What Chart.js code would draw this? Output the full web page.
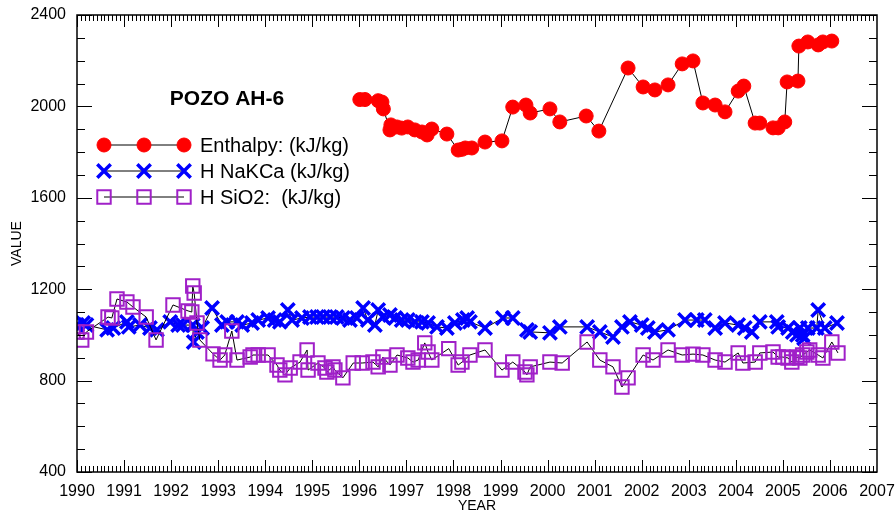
<!DOCTYPE html>
<html>
<head>
<meta charset="utf-8">
<script src="https://cdn.jsdelivr.net/npm/chart.js@4.4.1/dist/chart.umd.min.js"></script>
<style>
  html, body { margin: 0; padding: 0; background: #fff; }
  #wrap { width: 895px; height: 516px; position: relative; }
</style>
</head>
<body>
<div id="wrap"><canvas id="grafica"></canvas></div>
<script>
// Datos (POZO AH-6)
const chartTitle = 'POZO AH-6';
const seriesLabels = ['Enthalpy: (kJ/kg)', 'H NaKCa (kJ/kg)', 'H SiO2:  (kJ/kg)'];

const enthalpyYears = [1996.01, 1996.12, 1996.40, 1996.48, 1996.51, 1996.65, 1996.67, 1996.80, 1996.90, 1997.03,
  1997.18, 1997.33, 1997.44, 1997.54, 1997.86, 1998.10, 1998.18, 1998.25, 1998.39, 1998.67,
  1999.03, 1999.26, 1999.54, 1999.63, 2000.05, 2000.26, 2000.82, 2001.09, 2001.71, 2002.03,
  2002.28, 2002.56, 2002.86, 2003.09, 2003.30, 2003.56, 2003.77, 2004.05, 2004.17, 2004.41,
  2004.51, 2004.79, 2004.90, 2005.04, 2005.09, 2005.32, 2005.34, 2005.53, 2005.75, 2005.85, 2006.04];
const enthalpyValues = [2030, 2030, 2025, 2019, 1989, 1897, 1919, 1910, 1905, 1910,
  1897, 1888, 1875, 1901, 1879, 1809, 1812, 1818, 1818, 1844,
  1849, 1997, 2006, 1971, 1989, 1932, 1958, 1892, 2168, 2085,
  2072, 2094, 2186, 2199, 2015, 2006, 1976, 2067, 2089, 1927,
  1927, 1906, 1906, 1932, 2107, 2111, 2264, 2282, 2269, 2282, 2286];

const nakcaYears = [1990.00, 1990.13, 1990.20, 1990.64, 1990.77, 1991.06, 1991.10, 1991.34, 1991.55, 1991.70,
  1991.98, 1992.15, 1992.25, 1992.46, 1992.48, 1992.55, 1992.66, 1992.87, 1993.08, 1993.19,
  1993.40, 1993.51, 1993.72, 1993.85, 1994.06, 1994.20, 1994.31, 1994.48, 1994.57, 1994.78,
  1994.95, 1995.10, 1995.23, 1995.38, 1995.52, 1995.65, 1995.80, 1995.95, 1996.08, 1996.18,
  1996.33, 1996.40, 1996.50, 1996.65, 1996.76, 1996.90, 1997.03, 1997.18, 1997.33, 1997.46,
  1997.65, 1997.86, 1998.03, 1998.20, 1998.29, 1998.35, 1998.67, 1999.05, 1999.26, 1999.56,
  1999.63, 2000.05, 2000.26, 2000.84, 2001.11, 2001.39, 2001.58, 2001.75, 2002.00, 2002.13,
  2002.28, 2002.56, 2002.92, 2003.17, 2003.34, 2003.56, 2003.77, 2004.05, 2004.19, 2004.34,
  2004.51, 2004.87, 2004.90, 2005.11, 2005.21, 2005.30, 2005.36, 2005.42, 2005.45, 2005.53,
  2005.72, 2005.75, 2005.89, 2006.15];
const nakcaValues = [1043, 1052, 1043, 1022, 1030, 1057, 1035, 1043, 1030, 1022,
  1057, 1043, 1043, 1043, 969, 1013, 1030, 1118, 1043, 1057,
  1057, 1043, 1052, 1065, 1074, 1065, 1057, 1109, 1065, 1074,
  1078, 1078, 1078, 1078, 1078, 1074, 1065, 1074, 1118, 1065,
  1043, 1109, 1078, 1087, 1074, 1065, 1065, 1057, 1057, 1052,
  1035, 1030, 1052, 1065, 1074, 1057, 1030, 1074, 1074, 1022,
  1013, 1009, 1035, 1035, 1013, 991, 1035, 1057, 1043, 1030,
  1013, 1022, 1065, 1065, 1065, 1030, 1052, 1043, 1030, 1013,
  1057, 1057, 1035, 1030, 1013, 1000, 1030, 1000, 985, 1030,
  1030, 1109, 1030, 1052];

const sio2Years = [1990.00, 1990.10, 1990.20, 1990.66, 1990.74, 1990.85, 1991.06, 1991.19, 1991.47, 1991.68,
  1992.04, 1992.36, 1992.44, 1992.46, 1992.49, 1992.55, 1992.61, 1992.89, 1993.04, 1993.14,
  1993.29, 1993.40, 1993.68, 1993.74, 1993.85, 1994.06, 1994.25, 1994.31, 1994.42, 1994.53,
  1994.74, 1994.89, 1994.91, 1995.12, 1995.27, 1995.31, 1995.44, 1995.48, 1995.65, 1995.87,
  1996.06, 1996.29, 1996.40, 1996.50, 1996.65, 1996.80, 1997.03, 1997.14, 1997.25, 1997.39,
  1997.46, 1997.54, 1997.90, 1998.10, 1998.18, 1998.35, 1998.67, 1999.03, 1999.26, 1999.52,
  1999.56, 1999.63, 2000.05, 2000.31, 2000.84, 2001.11, 2001.39, 2001.58, 2001.71, 2002.03,
  2002.24, 2002.56, 2002.86, 2003.09, 2003.30, 2003.56, 2003.77, 2004.05, 2004.15, 2004.41,
  2004.51, 2004.79, 2004.90, 2005.00, 2005.11, 2005.19, 2005.30, 2005.36, 2005.42, 2005.51,
  2005.57, 2005.75, 2005.85, 2006.04, 2006.17];
const sio2Values = [1013, 978, 1013, 1078, 1074, 1157, 1144, 1122, 1078, 978,
  1131, 1105, 1100, 1214, 1183, 1052, 978, 917, 890, 912,
  1017, 890, 903, 912, 912, 912, 868, 846, 825, 855,
  881, 934, 846, 877, 855, 838, 860, 846, 812, 877,
  877, 881, 860, 903, 868, 912, 899, 881, 890, 965,
  925, 890, 940, 868, 881, 912, 934, 846, 881, 838,
  825, 860, 881, 877, 969, 890, 860, 772, 812, 912,
  890, 934, 912, 916, 912, 890, 881, 921, 877, 881,
  921, 925, 903, 903, 899, 881, 903, 899, 912, 925,
  934, 912, 899, 969, 921];

const yearTicks = [1990, 1991, 1992, 1993, 1994, 1995, 1996, 1997, 1998, 1999,
  2000, 2001, 2002, 2003, 2004, 2005, 2006, 2007];
const valueTicks = [400, 800, 1200, 1600, 2000, 2400];

const FONT = "'Liberation Sans', Arial, sans-serif";

function toPoints(xs, ys) {
  return xs.map((x, i) => ({ x: x, y: ys[i] }));
}

// Marco con marcas hacia dentro en los cuatro lados (mayores y menores)
const frameTicks = {
  id: 'frameTicks',
  afterDraw(chart) {
    const { ctx, chartArea: a, scales: { x, y } } = chart;
    ctx.save();
    ctx.strokeStyle = '#000';
    ctx.lineWidth = 1;
    ctx.beginPath();
    for (let yr = yearTicks[0]; yr < yearTicks[yearTicks.length - 1]; yr++) {
      for (let m = 0; m < 12; m++) {
        const px = Math.round(x.getPixelForValue(yr + m / 12)) + 0.5;
        const len = m === 0 ? 12 : 6;
        ctx.moveTo(px, a.bottom); ctx.lineTo(px, a.bottom - len);
        ctx.moveTo(px, a.top); ctx.lineTo(px, a.top + len);
      }
    }
    for (let v = valueTicks[0]; v <= valueTicks[valueTicks.length - 1]; v += 100) {
      const py = Math.round(y.getPixelForValue(v)) + 0.5;
      const len = valueTicks.includes(v) ? 15 : 8;
      ctx.moveTo(a.left, py); ctx.lineTo(a.left + len, py);
      ctx.moveTo(a.right, py); ctx.lineTo(a.right - len, py);
    }
    ctx.stroke();
    ctx.lineWidth = 1.5;
    ctx.strokeRect(a.left, a.top, a.right - a.left, a.bottom - a.top);
    ctx.restore();
  }
};

// Titulo del pozo y leyenda dentro del area de la grafica
const innerLegend = {
  id: 'innerLegend',
  afterDatasetsDraw(chart) {
    const ctx = chart.ctx;
    ctx.save();
    ctx.fillStyle = '#000';
    ctx.font = 'bold 21px ' + FONT;
    ctx.textAlign = 'center';
    ctx.textBaseline = 'middle';
    ctx.fillText(chartTitle, 227, 99);

    const rows = [145, 171, 197];
    const markX = [104, 144, 184];
    chart.data.datasets.forEach((ds, i) => {
      const yy = rows[i];
      ctx.strokeStyle = '#000';
      ctx.lineWidth = 1;
      ctx.beginPath();
      ctx.moveTo(markX[0], yy);
      ctx.lineTo(markX[2], yy);
      ctx.stroke();
      markX.forEach(mx => {
        ctx.strokeStyle = ds.pointBorderColor;
        ctx.fillStyle = ds.pointBackgroundColor;
        ctx.lineWidth = ds.pointBorderWidth;
        Chart.helpers.drawPoint(ctx, { pointStyle: ds.pointStyle, radius: ds.pointRadius, borderWidth: ds.pointBorderWidth, rotation: 0 }, mx, yy);
      });
      ctx.fillStyle = '#000';
      ctx.font = '20px ' + FONT;
      ctx.textAlign = 'left';
      ctx.fillText(ds.label, 200, yy + 1);
    });
    ctx.restore();
  }
};

const ctx = document.getElementById('grafica').getContext('2d');
const chart = new Chart(ctx, {
  type: 'scatter',
  data: {
    datasets: [
      {
        label: seriesLabels[0],
        data: toPoints(enthalpyYears, enthalpyValues),
        showLine: true,
        borderColor: '#000',
        borderWidth: 1,
        pointStyle: 'circle',
        pointRadius: 7,
        pointBorderWidth: 1,
        pointBorderColor: '#ff0000',
        pointBackgroundColor: '#ff0000',
        order: 2
      },
      {
        label: seriesLabels[1],
        data: toPoints(nakcaYears, nakcaValues),
        showLine: true,
        borderColor: '#000',
        borderWidth: 1,
        pointStyle: 'crossRot',
        pointRadius: 9.5,
        pointBorderWidth: 3.5,
        pointBorderColor: '#0000ff',
        pointBackgroundColor: '#0000ff',
        order: 1
      },
      {
        label: seriesLabels[2],
        data: toPoints(sio2Years, sio2Values),
        showLine: true,
        borderColor: '#000',
        borderWidth: 1,
        pointStyle: 'rect',
        pointRadius: 9.5,
        pointBorderWidth: 2,
        pointBorderColor: '#a020c8',
        pointBackgroundColor: 'rgba(0,0,0,0)',
        order: 0
      }
    ]
  },
  options: {
    responsive: true,
    maintainAspectRatio: false,
    animation: false,
    layout: { padding: { top: 15, right: 18, left: 0, bottom: 0 } },
    plugins: { legend: { display: false }, tooltip: { enabled: false } },
    scales: {
      x: {
        type: 'linear',
        min: yearTicks[0],
        max: yearTicks[yearTicks.length - 1],
        grid: { display: false, drawTicks: false },
        border: { display: false },
        afterBuildTicks: s => { s.ticks = yearTicks.map(v => ({ value: v })); },
        afterFit: s => { s.height = 44; s.paddingLeft = 0; s.paddingRight = 0; },
        ticks: {
          autoSkip: false,
          maxRotation: 0,
          padding: 10,
          color: '#000',
          font: { family: FONT, size: 16 },
          callback: v => String(v)
        },
        title: {
          display: true,
          text: 'YEAR',
          color: '#000',
          font: { family: FONT, size: 14 },
          padding: { top: 0, bottom: 1 }
        }
      },
      y: {
        min: valueTicks[0],
        max: valueTicks[valueTicks.length - 1],
        grid: { display: false, drawTicks: false },
        border: { display: false },
        afterBuildTicks: s => { s.ticks = valueTicks.map(v => ({ value: v })); },
        afterFit: s => { s.width = 77; s.paddingTop = 0; s.paddingBottom = 0; },
        ticks: {
          autoSkip: false,
          padding: 11,
          color: '#000',
          font: { family: FONT, size: 16 },
          callback: v => String(v)
        },
        title: {
          display: true,
          text: 'VALUE',
          color: '#000',
          font: { family: FONT, size: 14 },
          padding: { top: 9, bottom: 0 }
        }
      }
    }
  },
  plugins: [frameTicks, innerLegend]
});
</script>
</body>
</html>
